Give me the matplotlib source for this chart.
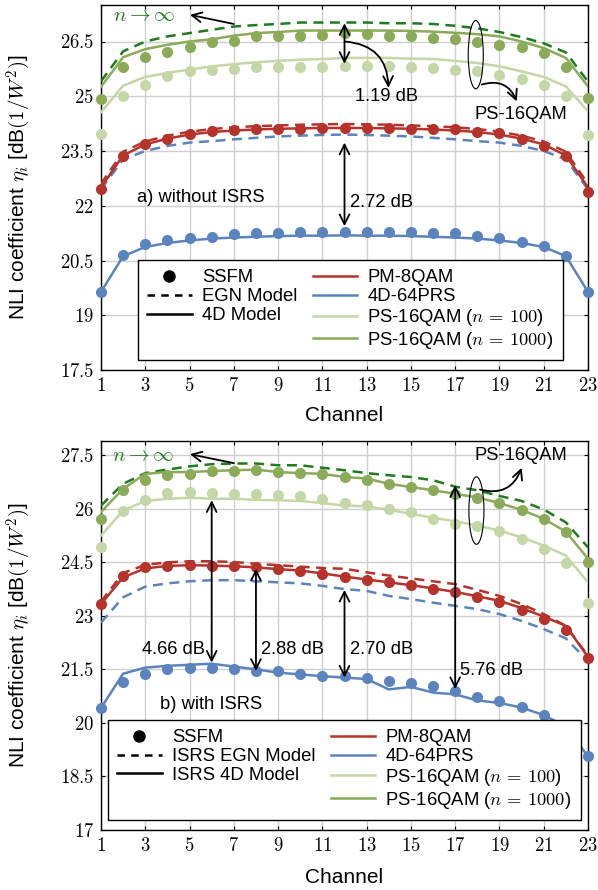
import matplotlib
matplotlib.use('Agg')
import matplotlib.pyplot as plt
from matplotlib.lines import Line2D
from matplotlib.patches import Ellipse

plt.rcParams['font.family'] = ['Liberation Sans', 'DejaVu Sans']
plt.rcParams['mathtext.fontset'] = 'cm'

channels = list(range(1, 24))

# ---- a) without ISRS ----
red_ssfm_a = [22.47, 23.36, 23.68, 23.82, 23.96, 24.05, 24.07, 24.09, 24.11, 24.11, 24.14, 24.14,
              24.14, 24.14, 24.11, 24.09, 24.09, 24.02, 23.98, 23.84, 23.64, 23.36, 22.38]
red_4d_a = [22.50, 23.38, 23.68, 23.84, 23.95, 24.02, 24.06, 24.09, 24.11, 24.12, 24.13, 24.13,
            24.13, 24.12, 24.11, 24.09, 24.06, 24.02, 23.95, 23.84, 23.68, 23.38, 22.50]
red_egn_a = [22.60, 23.48, 23.76, 23.92, 24.03, 24.10, 24.15, 24.18, 24.20, 24.22, 24.23, 24.24,
             24.23, 24.22, 24.20, 24.18, 24.15, 24.10, 24.03, 23.92, 23.76, 23.48, 22.60]
blue_ssfm_a = [19.64, 20.66, 20.94, 21.05, 21.12, 21.15, 21.23, 21.24, 21.24, 21.27, 21.27, 21.28,
               21.28, 21.27, 21.27, 21.24, 21.24, 21.18, 21.12, 21.00, 20.89, 20.61, 19.64]
blue_4d_a = [19.64, 20.62, 20.87, 20.98, 21.05, 21.10, 21.13, 21.15, 21.17, 21.18, 21.18, 21.19,
             21.18, 21.18, 21.17, 21.15, 21.13, 21.10, 21.05, 20.98, 20.87, 20.62, 19.64]
blue_egn_a = [22.45, 23.27, 23.50, 23.64, 23.73, 23.77, 23.82, 23.86, 23.90, 23.92, 23.94, 23.95,
              23.94, 23.92, 23.90, 23.86, 23.82, 23.77, 23.73, 23.64, 23.50, 23.27, 22.45]
ps100_ssfm_a = [23.96, 25.00, 25.32, 25.56, 25.68, 25.71, 25.75, 25.79, 25.79, 25.79, 25.79, 25.82,
                25.82, 25.82, 25.79, 25.77, 25.73, 25.68, 25.59, 25.46, 25.30, 25.00, 23.93]
ps100_4d_a = [24.56, 25.29, 25.53, 25.64, 25.73, 25.82, 25.88, 25.93, 25.97, 26.00, 26.02, 26.05,
              26.05, 26.05, 26.03, 26.02, 25.97, 25.91, 25.82, 25.68, 25.53, 25.27, 24.59]
ps1000_ssfm_a = [24.93, 25.80, 26.07, 26.21, 26.36, 26.48, 26.51, 26.64, 26.64, 26.66, 26.68, 26.73,
                 26.70, 26.66, 26.66, 26.59, 26.57, 26.48, 26.41, 26.36, 26.18, 25.79, 24.94]
ps1000_4d_a = [25.26, 26.07, 26.29, 26.41, 26.50, 26.56, 26.66, 26.73, 26.76, 26.80, 26.80, 26.80,
               26.80, 26.80, 26.79, 26.77, 26.74, 26.70, 26.64, 26.50, 26.32, 26.05, 25.27]
ps_egn_a = [25.41, 26.23, 26.50, 26.64, 26.73, 26.82, 26.91, 26.95, 26.98, 27.02, 27.02, 27.02,
            27.02, 27.00, 27.00, 26.98, 26.93, 26.86, 26.76, 26.62, 26.45, 26.20, 25.40]

# ---- b) with ISRS ----
red_ssfm_b = [23.33, 24.13, 24.36, 24.41, 24.43, 24.41, 24.41, 24.36, 24.31, 24.27, 24.17, 24.08,
              24.00, 23.94, 23.87, 23.75, 23.66, 23.53, 23.40, 23.16, 22.91, 22.60, 21.81]
red_4d_b = [23.33, 24.08, 24.33, 24.40, 24.42, 24.41, 24.39, 24.36, 24.31, 24.27, 24.19, 24.10,
            24.02, 23.94, 23.86, 23.77, 23.67, 23.55, 23.42, 23.22, 22.98, 22.72, 21.85]
red_egn_b = [23.40, 24.20, 24.43, 24.50, 24.53, 24.53, 24.51, 24.46, 24.42, 24.38, 24.34, 24.32,
             24.22, 24.13, 24.05, 23.97, 23.89, 23.73, 23.56, 23.33, 23.05, 22.72, 21.88]
blue_ssfm_b = [20.42, 21.15, 21.36, 21.50, 21.53, 21.53, 21.50, 21.45, 21.45, 21.36, 21.31, 21.31,
               21.25, 21.17, 21.11, 21.04, 20.90, 20.72, 20.61, 20.45, 20.22, 19.85, 19.06]
blue_4d_b = [20.42, 21.38, 21.55, 21.60, 21.63, 21.66, 21.58, 21.50, 21.41, 21.36, 21.31, 21.27,
             21.23, 20.94, 21.01, 20.85, 20.80, 20.63, 20.56, 20.43, 20.22, 19.90, 19.06]
blue_egn_b = [22.81, 23.52, 23.82, 23.91, 23.97, 24.00, 24.00, 23.97, 23.94, 23.91, 23.84, 23.75,
              23.70, 23.56, 23.47, 23.37, 23.28, 23.19, 23.05, 22.86, 22.63, 22.37, 21.73]
ps100_ssfm_b = [24.94, 25.95, 26.25, 26.44, 26.47, 26.44, 26.42, 26.42, 26.38, 26.35, 26.28, 26.16,
                26.12, 26.00, 25.91, 25.72, 25.58, 25.53, 25.39, 25.16, 24.88, 24.47, 23.37]
ps100_4d_b = [25.25, 25.95, 26.22, 26.28, 26.31, 26.28, 26.28, 26.25, 26.24, 26.22, 26.16, 26.09,
              26.07, 25.97, 25.86, 25.75, 25.65, 25.53, 25.39, 25.20, 24.97, 24.69, 23.94]
ps1000_ssfm_b = [25.72, 26.54, 26.80, 26.94, 26.98, 27.06, 27.06, 27.10, 27.03, 27.00, 26.98, 26.90,
                 26.82, 26.70, 26.61, 26.52, 26.42, 26.30, 26.16, 25.97, 25.72, 25.34, 24.50]
ps1000_4d_b = [25.91, 26.56, 26.98, 27.03, 27.03, 27.06, 27.08, 27.10, 27.03, 27.00, 26.98, 26.89,
               26.85, 26.70, 26.61, 26.52, 26.42, 26.32, 26.16, 25.97, 25.72, 25.36, 24.60]
ps_egn_b = [26.09, 26.70, 27.00, 27.10, 27.19, 27.25, 27.27, 27.27, 27.22, 27.22, 27.15, 27.08,
            27.00, 26.94, 26.89, 26.80, 26.62, 26.52, 26.36, 26.22, 25.98, 25.62, 24.92]

xticks = list(range(1, 24, 2))
yticks_a = [17.5, 19, 20.5, 22, 23.5, 25, 26.5]
yticks_b = [17, 18.5, 20, 21.5, 23, 24.5, 26, 27.5]

RED = '#b5332a'
BLUE = '#5b84bf'
LIGHT = '#c5d7a6'
OLIVE = '#8bab58'
DKGREEN = '#1e7b1e'
LW = 1.8
DASH = (4, 2.6)
FS = 13.2        # annotations
FS_LEG = 13.3    # legend
FS_LAB = 15      # axis labels
FS_TICK = 13.5   # tick labels


def draw_series(ax, ssfm, model, egn, color, egn_color=None):
    if egn is not None:
        ax.plot(channels, egn, color=egn_color or color, lw=LW, dashes=DASH, zorder=3)
    ax.plot(channels, model, color=color, lw=LW, zorder=3)
    ax.plot(channels, ssfm, 'o', color=color, ms=8, mec='none', zorder=4, clip_on=False)


def setup_axes(ax, ylim, yticks):
    ax.set_xlim(1, 23)
    ax.set_ylim(*ylim)
    ax.set_xticks(xticks)
    ax.set_xticklabels([f'${t}$' for t in xticks], fontsize=FS_TICK)
    ax.set_yticks(yticks)
    ax.set_yticklabels([f'${t:g}$' for t in yticks], fontsize=FS_TICK)
    ax.tick_params(direction='in', length=3, top=True, right=True, pad=5)
    ax.grid(True, color='#cfcfcf', lw=1)
    ax.set_axisbelow(True)
    for s in ax.spines.values():
        s.set_linewidth(1)
    ax.set_xlabel('Channel', fontsize=FS_LAB)
    ax.xaxis.set_label_coords(0.5, -0.098)
    ax.set_ylabel(r'NLI coefficient $\eta_i$ [dB$(1/W^2)$]', fontsize=FS_LAB)
    ax.yaxis.set_label_coords(-0.14, 0.5)


def darrow(ax, x, y0, y1):
    ax.annotate('', xy=(x, y1), xytext=(x, y0),
                arrowprops=dict(arrowstyle='<->,head_length=0.5,head_width=0.25',
                                mutation_scale=14, lw=1.3, color='black',
                                shrinkA=0, shrinkB=0), zorder=6)


def carrow(ax, x0, y0, x1, y1, rad, color='black'):
    ax.annotate('', xy=(x1, y1), xytext=(x0, y0),
                arrowprops=dict(arrowstyle='->,head_length=0.5,head_width=0.25',
                                mutation_scale=14, lw=1.3, color=color,
                                shrinkA=0, shrinkB=0,
                                connectionstyle=f'arc3,rad={rad}'), zorder=6)


def add_legend(ax, names, anchor):
    h = [Line2D([], [], marker='o', color='black', ls='none', ms=8),
         Line2D([], [], color='black', lw=LW, dashes=(3, 2.5)),
         Line2D([], [], color='black', lw=LW),
         Line2D([], [], alpha=0),
         Line2D([], [], color=RED, lw=LW),
         Line2D([], [], color=BLUE, lw=LW),
         Line2D([], [], color=LIGHT, lw=LW),
         Line2D([], [], color=OLIVE, lw=LW)]
    labels = names + ['', 'PM-8QAM', '4D-64PRS',
                      r'PS-16QAM ($n\,=\,100$)', r'PS-16QAM ($n\,=\,1000$)']
    leg = ax.legend(h, labels, ncol=2, loc='lower left', bbox_to_anchor=anchor,
                    borderaxespad=0, fontsize=FS_LEG, handlelength=2.4, handletextpad=0.55,
                    columnspacing=0.85, labelspacing=0.1, borderpad=0.5,
                    fancybox=False, framealpha=1, edgecolor='black')
    leg.get_frame().set_linewidth(1)
    leg.set_zorder(10)


fig = plt.figure(figsize=(5.98, 8.90), dpi=100)
ax1 = fig.add_axes([101 / 598, 1 - 370 / 890, 487 / 598, 365 / 890])
ax2 = fig.add_axes([101 / 598, 1 - 830 / 890, 487 / 598, 389 / 890])

# ------ a) without ISRS ------
draw_series(ax1, blue_ssfm_a, blue_4d_a, blue_egn_a, BLUE)
draw_series(ax1, red_ssfm_a, red_4d_a, red_egn_a, RED)
draw_series(ax1, ps100_ssfm_a, ps100_4d_a, None, LIGHT)
draw_series(ax1, ps1000_ssfm_a, ps1000_4d_a, ps_egn_a, OLIVE, DKGREEN)
setup_axes(ax1, (17.5, 27.5), yticks_a)

ax1.text(1.54, 27.2, r'$n\rightarrow\infty$', color=DKGREEN, fontsize=15, va='center', ha='left')
carrow(ax1, 7.0, 26.98, 5.02, 27.23, 0)
darrow(ax1, 12, 27.0, 25.89)
carrow(ax1, 12.02, 26.5, 13.98, 25.23, -0.45)
ax1.text(13.9, 24.98, '1.19 dB', fontsize=FS, ha='center', va='center')
ax1.add_patch(Ellipse((17.93, 26.14), 0.68, 1.87, fill=False, lw=0.8, ec='black', zorder=6))
carrow(ax1, 18.2, 25.32, 19.78, 24.86, -0.45)
ax1.text(19.97, 24.5, 'PS-16QAM', fontsize=FS, ha='center', va='center')
ax1.text(2.61, 22.23, 'a) without ISRS', fontsize=FS, ha='left', va='center')
darrow(ax1, 12, 23.73, 21.44)
ax1.text(12.25, 22.09, '2.72 dB', fontsize=FS, ha='left', va='center')
add_legend(ax1, ['SSFM', 'EGN Model', '4D Model'], (0.076, 0.027))

# ------ b) with ISRS ------
draw_series(ax2, blue_ssfm_b, blue_4d_b, blue_egn_b, BLUE)
draw_series(ax2, red_ssfm_b, red_4d_b, red_egn_b, RED)
draw_series(ax2, ps100_ssfm_b, ps100_4d_b, None, LIGHT)
draw_series(ax2, ps1000_ssfm_b, ps1000_4d_b, ps_egn_b, OLIVE, DKGREEN)
setup_axes(ax2, (17, 27.9), yticks_b)

ax2.text(1.48, 27.5, r'$n\rightarrow\infty$', color=DKGREEN, fontsize=15, va='center', ha='left')
carrow(ax2, 7.0, 27.28, 5.02, 27.53, 0)
ax2.add_patch(Ellipse((17.96, 25.95), 0.68, 1.89, fill=False, lw=0.8, ec='black', zorder=6))
carrow(ax2, 18.12, 26.54, 20.0, 27.15, 0.45)
ax2.text(19.97, 27.5, 'PS-16QAM', fontsize=FS, ha='center', va='center')
darrow(ax2, 6, 26.24, 21.69)
darrow(ax2, 8, 24.32, 21.46)
darrow(ax2, 12, 23.73, 21.27)
darrow(ax2, 17, 26.66, 20.95)
ax2.text(4.29, 22.07, '4.66 dB', fontsize=FS, ha='center', va='center')
ax2.text(9.65, 22.07, '2.88 dB', fontsize=FS, ha='center', va='center')
ax2.text(13.66, 22.07, '2.70 dB', fontsize=FS, ha='center', va='center')
ax2.text(18.63, 21.46, '5.76 dB', fontsize=FS, ha='center', va='center')
ax2.text(3.66, 20.53, 'b) with ISRS', fontsize=FS, ha='left', va='center')
add_legend(ax2, ['SSFM', 'ISRS EGN Model', 'ISRS 4D Model'], (0.0144, 0.0257))

fig.savefig('out.png', dpi=100)
plt.close(fig)
